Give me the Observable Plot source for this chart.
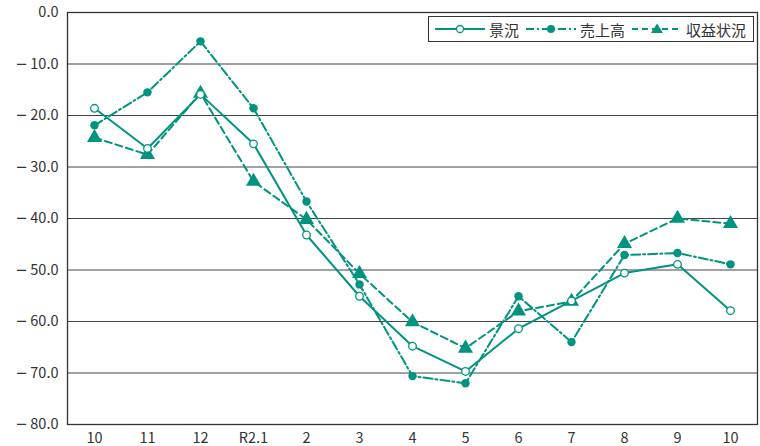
<!DOCTYPE html>
<html><head><meta charset="utf-8">
<script src="https://cdn.jsdelivr.net/npm/d3@7"></script>
<script src="https://cdn.jsdelivr.net/npm/@observablehq/plot@0.6"></script>
<style>
body{margin:0;background:#fff;font-family:"Noto Sans CJK JP","Noto Sans",sans-serif;}
#wrap{position:relative;width:760px;height:446px;}
#legend{position:absolute;left:428px;top:16px;width:326px;height:26px;border:1.3px solid #333;background:#fff;box-sizing:border-box;font-size:15px;color:#333;white-space:nowrap;}
#legend .it{position:absolute;top:0;height:24px;display:flex;align-items:center;white-space:nowrap;}
#legend svg{display:block;margin-right:4px;flex-shrink:0;}
</style></head><body>
<div id="wrap"><div id="chart"></div>
<div id="legend"></div></div>
<script>
const months = ["10","11","12","R2.1","2","3","4","5","6","7","8","9","10"];
const keikyo = [-18.6,-26.4,-15.9,-25.5,-43.2,-55.1,-64.8,-69.7,-61.4,-56.0,-50.6,-48.9,-57.9];
const uriage = [-21.9,-15.5,-5.6,-18.6,-36.7,-52.8,-70.6,-72.0,-55.1,-64.0,-47.1,-46.7,-48.9];
const shueki = [-24.3,-27.6,-15.7,-32.8,-40.2,-50.7,-60.1,-65.2,-58.0,-56.1,-44.9,-40.0,-41.0];
const seriesNames = ["景況","売上高","収益状況"];
const yTicks = [0,-10,-20,-30,-40,-50,-60,-70,-80];
const C = "#00937f";

const rows = (vals, s) => vals.map((v,i)=>({i, v, s}));
const dK = rows(keikyo, seriesNames[0]);
const dU = rows(uriage, seriesNames[1]);
const dS = rows(shueki, seriesNames[2]);
const f1 = d3.format(".1f");

const chart = Plot.plot({
  width:760, height:446,
  marginLeft:67, marginRight:3, marginTop:12, marginBottom:22,
  style:{fontFamily:'"Noto Sans CJK JP","Noto Sans",sans-serif', fontSize:"14.5px", color:"#333", background:"#fff"},
  x:{type:"point", domain:months.map((_,i)=>i), padding:0.5, label:null, tickFormat:i=>months[i], tickSize:0, tickPadding:8},
  y:{domain:[-80,0], ticks:yTicks, tickFormat:d=>d<0?"\u2212"+f1(-d):f1(d), label:null, tickSize:0, tickPadding:9},
  marks:[
    Plot.ruleY(yTicks, {stroke:"#444", strokeWidth:1}),
    Plot.frame({stroke:"#333", strokeWidth:1.3}),
    Plot.line(dU, {x:"i", y:"v", stroke:C, strokeWidth:2, strokeDasharray:"9,3,2,3"}),
    Plot.line(dS, {x:"i", y:"v", stroke:C, strokeWidth:2, strokeDasharray:"7,4"}),
    Plot.line(dK, {x:"i", y:"v", stroke:C, strokeWidth:2}),
    Plot.dot(dU, {x:"i", y:"v", fill:C, r:4.2}),
    Plot.dot(dS, {x:"i", y:"v", fill:C, symbol:"triangle", r:5.6}),
    Plot.dot(dK, {x:"i", y:"v", fill:"#fff", stroke:C, strokeWidth:1.3, r:3.8})
  ]
});
// render the minus sign of y tick labels with a wide minus glyph
d3.select(chart).selectAll('g[aria-label="y-axis tick label"] text').each(function(){
  const t = d3.select(this);
  const s = t.text();
  if (s.startsWith("\u2212")) {
    t.text(null);
    t.append("tspan").attr("font-family","DejaVu Sans").text("\u2212");
    t.append("tspan").attr("dx","3").text(s.slice(1));
  }
});
document.getElementById("chart").append(chart);

const leg = document.getElementById("legend");
const legendItems = [
  {name:seriesNames[0], left:6, dash:null, marker:`<circle cx="25" cy="8" r="3.5" fill="#fff" stroke="${C}" stroke-width="1.3"/>`},
  {name:seriesNames[1], left:97, dash:"8,3,2,3", marker:`<circle cx="25" cy="8" r="4" fill="${C}"/>`},
  {name:seriesNames[2], left:203, dash:"6,4", marker:`<path d="M25,2.5 L31,12 L19,12 Z" fill="${C}"/>`}
];
legendItems.forEach(it=>{
  const d = document.createElement("div");
  d.className="it";
  d.style.left = it.left+"px";
  d.innerHTML = `<svg width="50" height="16"><line x1="0" y1="8" x2="50" y2="8" stroke="${C}" stroke-width="2" ${it.dash?`stroke-dasharray="${it.dash}"`:""}/>${it.marker}</svg><span>${it.name}</span>`;
  leg.append(d);
});
</script></body></html>
